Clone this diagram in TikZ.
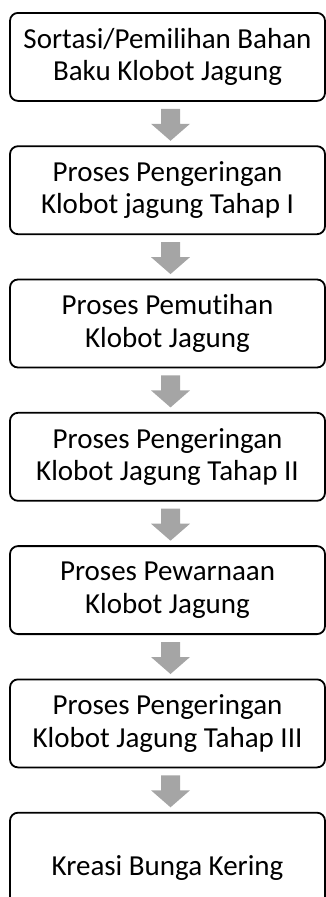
\documentclass[tikz,border=0pt]{standalone}
\usepackage{fontspec}
\setmainfont[Ligatures={NoCommon}]{Carlito}
\usetikzlibrary{calc}
\definecolor{arrowgray}{HTML}{A5A5A5}
\tikzset{
  procbox/.style={draw=black, line width=1.8pt, rounded corners=8pt,
    minimum width=315pt, minimum height=88pt, inner sep=0pt,
    align=center, font=\fontsize{29pt}{32.5pt}\selectfont, anchor=north},
  blockarrow/.style={fill=arrowgray, draw=none}
}
\begin{document}
\begin{tikzpicture}[x=1pt,y=1pt]
\useasboundingbox (0,0) rectangle (326,-897);
\clip (0,0) rectangle (326,-897);
\node[procbox] (b1) at (167.5,-12) {Sortasi/Pemilihan Bahan\\Baku Klobot Jagung};
\node[procbox] (b2) at (167.5,-145.3) {Proses Pengeringan\\Klobot jagung Tahap I};
\node[procbox] (b3) at (167.5,-278.6) {Proses Pemutihan\\Klobot Jagung};
\node[procbox] (b4) at (167.5,-411.9) {Proses Pengeringan\\Klobot Jagung Tahap II};
\node[procbox] (b5) at (167.5,-545.2) {Proses Pewarnaan\\Klobot Jagung};
\node[procbox] (b6) at (167.5,-678.5) {Proses Pengeringan\\Klobot Jagung Tahap III};
\node[procbox, minimum height=110pt] (b7) at (167.5,-811.8) {Kreasi Bunga Kering};
\foreach \a in {b1,b2,b3,b4,b5,b6}{
  \fill[blockarrow] ($(\a.south)+(-6.5,-7)$) -- ++(19,0) -- ++(0,-15) -- ++(10,0)
    -- ++(-19.5,-17) -- ++(-19.5,17) -- ++(10,0) -- cycle;
}
\end{tikzpicture}
\end{document}
